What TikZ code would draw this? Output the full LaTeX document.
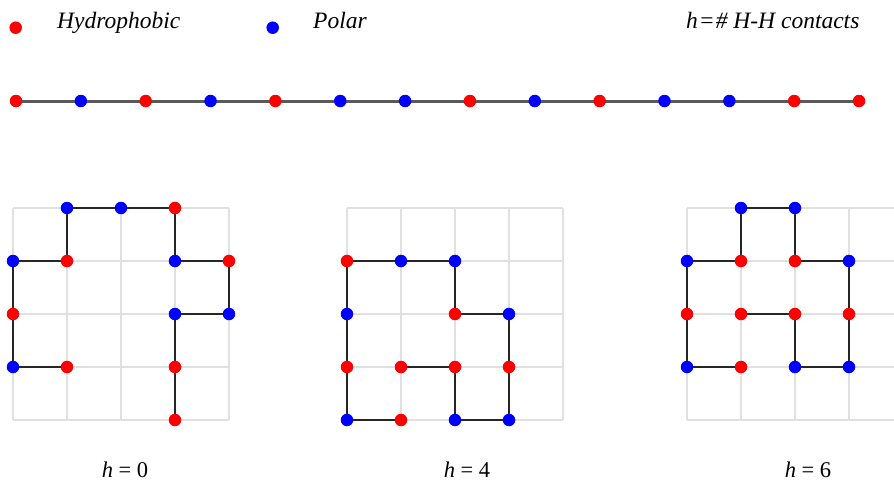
\documentclass[tikz,border=0pt]{standalone}
\usepackage{fontspec}
\setmainfont{Liberation Serif}
\pgfdeclarelayer{back}
\pgfdeclarelayer{mid}
\pgfsetlayers{back,mid,main}
\begin{document}
\begin{tikzpicture}[x=1pt,y=-1pt,
  hyd/.style={circle,fill=red,draw=none,inner sep=0pt,minimum size=12.5pt},
  pol/.style={circle,fill=blue,draw=none,inner sep=0pt,minimum size=12.5pt},
  gridln/.style={draw=black!12,line width=1.3pt},
  bond/.style={draw=black!85,line width=1.1pt},
  chainln/.style={draw=black!65,line width=3pt},
  legtext/.style={font=\fontsize{23.5}{28}\selectfont\itshape,anchor=base west,inner sep=0pt},
  htext/.style={font=\fontsize{22.5}{26}\selectfont,anchor=base,inner sep=0pt}]
\useasboundingbox (0,0) rectangle (894,482);
\clip (0,0) rectangle (894,482);

% legend
\node[hyd] (lh) at (15.7,27.7) {};
\node[legtext] (lht) at (57,28) {Hydrophobic};
\node[pol] (lp) at (272.7,27.7) {};
\node[legtext] (lpt) at (313,28) {Polar};
\node[legtext] (lct) at (686,28) {\textit{h}\kern1pt=\kern1pt\#\ \textit{H-H contacts}};

% chain
\foreach \i/\c in {1/hyd,2/pol,3/hyd,4/pol,5/hyd,6/pol,7/pol,8/hyd,9/pol,10/hyd,11/pol,12/pol,13/hyd,14/hyd}
  \node[\c] (c\i) at ({16+(\i-1)*64.85},101) {};
\begin{pgfonlayer}{mid}
\foreach \i [evaluate=\i as \j using int(\i+1)] in {1,...,13}
  \draw[chainln] (c\i.center) -- (c\j.center);
\end{pgfonlayer}

% grids
\begin{pgfonlayer}{back}
\foreach \x in {13,347,687}{
  \foreach \k in {0,...,4}{
    \draw[gridln] ({\x+\k*54},208) -- ({\x+\k*54},420);
    \draw[gridln] (\x,{208+\k*53}) -- ({\x+216},{208+\k*53});
  }
}
\end{pgfonlayer}

% conformation h=0
\foreach \i/\p/\q/\c in {1/1/3/hyd,2/0/3/pol,3/0/2/hyd,4/0/1/pol,5/1/1/hyd,6/1/0/pol,7/2/0/pol,8/3/0/hyd,9/3/1/pol,10/4/1/hyd,11/4/2/pol,12/3/2/pol,13/3/3/hyd,14/3/4/hyd}
  \node[\c] (a\i) at ({13+\p*54},{208+\q*53}) {};
% conformation h=4
\foreach \i/\p/\q/\c in {1/1/4/hyd,2/0/4/pol,3/0/3/hyd,4/0/2/pol,5/0/1/hyd,6/1/1/pol,7/2/1/pol,8/2/2/hyd,9/3/2/pol,10/3/3/hyd,11/3/4/pol,12/2/4/pol,13/2/3/hyd,14/1/3/hyd}
  \node[\c] (b\i) at ({347+\p*54},{208+\q*53}) {};
% conformation h=6
\foreach \i/\p/\q/\c in {1/1/3/hyd,2/0/3/pol,3/0/2/hyd,4/0/1/pol,5/1/1/hyd,6/1/0/pol,7/2/0/pol,8/2/1/hyd,9/3/1/pol,10/3/2/hyd,11/3/3/pol,12/2/3/pol,13/2/2/hyd,14/1/2/hyd}
  \node[\c] (d\i) at ({687+\p*54},{208+\q*53}) {};

\begin{pgfonlayer}{mid}
\foreach \n in {a,b,d}{
  \foreach \i [evaluate=\i as \j using int(\i+1)] in {1,...,13}
    \draw[bond] (\n\i.center) -- (\n\j.center);
}
\end{pgfonlayer}

% labels
\node[htext] (h0) at (125,477) {\textit{h} = 0};
\node[htext] (h4) at (467,477) {\textit{h} = 4};
\node[htext] (h6) at (808,477) {\textit{h} = 6};
\end{tikzpicture}
\end{document}
